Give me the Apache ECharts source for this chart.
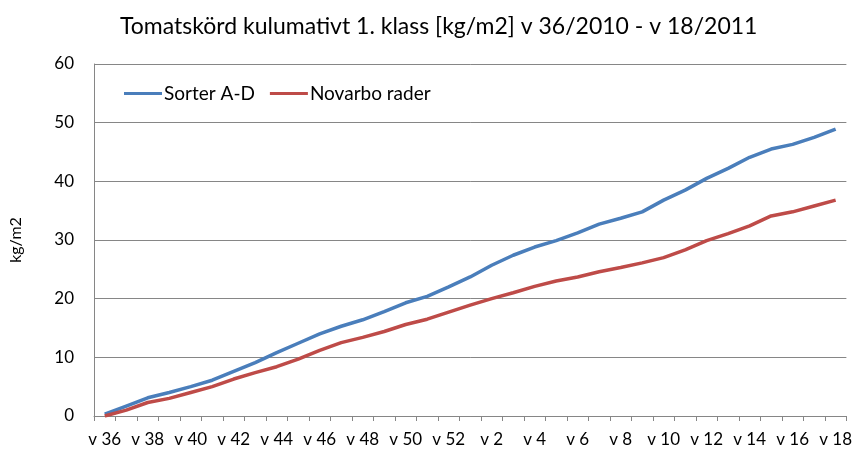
<!DOCTYPE html>
<html>
<head>
<meta charset="utf-8">
<script src="https://cdn.jsdelivr.net/npm/echarts@6/dist/echarts.min.js"></script>
<style>
    html, body { margin: 0; padding: 0; background: #fff; }
    #chart { width: 855px; height: 450px; }
</style>
</head>
<body>
<div id="chart"></div>
<script>
    // veckor 36-52 (2010) och 1-18 (2011)
    var weeks = ['v 36','v 37','v 38','v 39','v 40','v 41','v 42','v 43','v 44','v 45','v 46','v 47','v 48','v 49','v 50','v 51','v 52',
                 'v 1','v 2','v 3','v 4','v 5','v 6','v 7','v 8','v 9','v 10','v 11','v 12','v 13','v 14','v 15','v 16','v 17','v 18'];
    var sorterAD = [0.3, 1.7, 3.1, 4.0, 5.0, 6.1, 7.6, 9.1, 10.8, 12.4, 14.0, 15.3, 16.4, 17.8, 19.3, 20.4, 22.0,
                    23.7, 25.7, 27.4, 28.8, 29.9, 31.2, 32.7, 33.7, 34.8, 36.8, 38.5, 40.5, 42.2, 44.1, 45.5, 46.3, 47.5, 48.9];
    var novarbo = [0.0, 1.0, 2.3, 3.0, 4.0, 5.0, 6.3, 7.4, 8.4, 9.7, 11.2, 12.5, 13.4, 14.4, 15.6, 16.5, 17.7,
                   18.9, 20.0, 21.0, 22.1, 23.0, 23.7, 24.6, 25.3, 26.1, 27.0, 28.3, 29.9, 31.1, 32.4, 34.1, 34.8, 35.8, 36.8];

    var font = 'Lato, "Open Sans", sans-serif';
    var myChart = echarts.init(document.getElementById('chart'));
    var option = {
        animation: false,
        title: {
            text: 'Tomatskörd kulumativt 1. klass [kg/m2] v 36/2010 - v 18/2011',
            left: 115,
            top: 10,
            textStyle: { fontFamily: font, fontSize: 23, fontWeight: 'normal', color: '#000' }
        },
        color: ['#4A7EBB', '#BE4B48'],
        legend: {
            left: 119,
            top: 79,
            itemWidth: 38,
            itemHeight: 3,
            itemGap: 15,
            icon: 'rect',
            textStyle: { fontFamily: font, fontSize: 19, color: '#000', padding: [0, 0, 0, -3] },
            data: ['Sorter A-D', 'Novarbo rader']
        },
        grid: { left: 92, right: 7, top: 64, bottom: 34 },
        xAxis: {
            type: 'category',
            data: weeks,
            boundaryGap: true,
            axisLine: { lineStyle: { color: '#868686' } },
            axisTick: { show: true, interval: 0, length: 5, lineStyle: { color: '#868686' } },
            axisLabel: { interval: 1, fontFamily: font, fontSize: 17, color: '#000', margin: 15 }
        },
        yAxis: {
            type: 'value',
            min: 0,
            max: 60,
            interval: 10,
            name: 'kg/m2',
            nameLocation: 'middle',
            nameRotate: 90,
            nameGap: 70,
            nameTextStyle: { fontFamily: font, fontSize: 16, color: '#000' },
            axisLine: { show: true, lineStyle: { color: '#868686' } },
            axisTick: { show: false },
            axisLabel: { fontFamily: font, fontSize: 17, color: '#000', margin: 20 },
            splitLine: { lineStyle: { color: '#868686' } }
        },
        series: [
            {
                name: 'Sorter A-D',
                type: 'line',
                data: sorterAD,
                showSymbol: false,
                lineStyle: { width: 3.5 }
            },
            {
                name: 'Novarbo rader',
                type: 'line',
                data: novarbo,
                showSymbol: false,
                lineStyle: { width: 3.5 }
            }
        ]
    };
    myChart.setOption(option);
</script>
</body>
</html>
